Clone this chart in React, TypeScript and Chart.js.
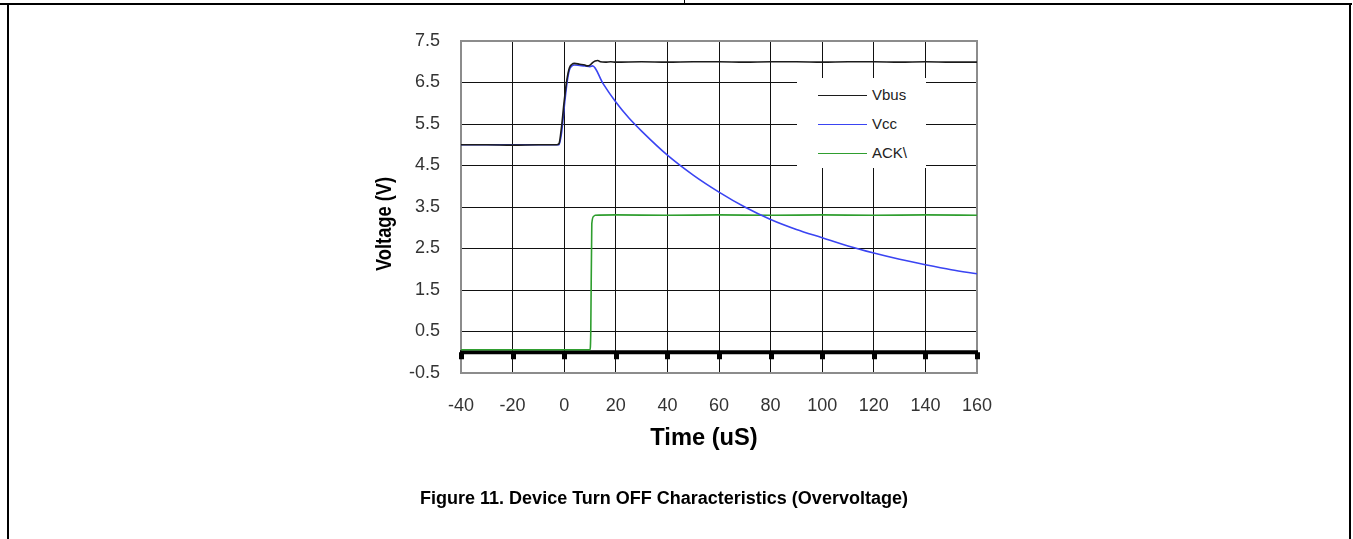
import React, { useEffect, useRef } from "react";
import { Chart, registerables } from "chart.js";

Chart.register(...registerables);

const seriesNames = ["Vbus", "Vcc", "ACK\\"];
const seriesColors = ["#1c1c1c", "#3a44f2", "#2f9e2f"];
const xTitle = "Time (uS)";
const yTitle = "Voltage (V)";
const caption = "Figure 11. Device Turn OFF Characteristics (Overvoltage)";

const xTicks = [-40, -20, 0, 20, 40, 60, 80, 100, 120, 140, 160];
const yTicks = [-0.5, 0.5, 1.5, 2.5, 3.5, 4.5, 5.5, 6.5, 7.5];

const vbusTime = [-40, -30, -20, -10, -3, -2, -1, 0, 1, 2, 3, 4, 6, 8, 9, 10, 11, 12, 13, 14, 16, 18, 20, 30, 40, 50, 60, 70, 80, 90, 100, 110, 120, 130, 140, 150, 160];
const vbusValues = [5.0, 5.0, 4.99, 5.0, 5.0, 5.03, 5.45, 6.05, 6.55, 6.85, 6.94, 6.96, 6.94, 6.92, 6.9, 6.92, 6.98, 7.02, 7.03, 7.0, 6.99, 7.0, 6.99, 7.0, 6.99, 7.0, 7.0, 6.99, 7.0, 7.0, 6.99, 7.0, 7.0, 6.99, 7.0, 6.99, 6.99];

const vccTime = [-40, -30, -20, -10, -3, -2, -1, 0, 1, 2, 3, 4, 6, 8, 10, 11, 15, 20, 25, 30, 40, 50, 60, 70, 80, 90, 100, 110, 120, 130, 140, 150, 160];
const vccValues = [5.0, 5.0, 5.0, 5.0, 5.0, 5.0, 5.3, 5.9, 6.45, 6.8, 6.9, 6.92, 6.91, 6.9, 6.88, 6.9, 6.48, 6.03, 5.65, 5.33, 4.75, 4.27, 3.86, 3.5, 3.2, 2.96, 2.76, 2.56, 2.39, 2.24, 2.11, 1.99, 1.89];

const ackTime = [-40, -20, 0, 10, 10.3, 10.7, 11.5, 12, 20, 40, 60, 80, 100, 120, 140, 160];
const ackValues = [0.06, 0.06, 0.06, 0.06, 0.5, 3.1, 3.28, 3.3, 3.31, 3.3, 3.31, 3.3, 3.31, 3.3, 3.31, 3.3];

const FONT = "'Liberation Sans', Arial, sans-serif";

function toPoints(t: number[], v: number[]) {
  return t.map((x, i) => ({ x, y: v[i] }));
}

const framePlugin = {
  id: "frameAndZero",
  beforeDatasetsDraw(chart: any) {
    const { ctx, chartArea: a, scales } = chart;
    ctx.save();
    ctx.strokeStyle = "#8c8c8c";
    ctx.lineWidth = 2;
    ctx.strokeRect(a.left, a.top, a.right - a.left, a.bottom - a.top);
    const y0 = scales.y.getPixelForValue(0);
    ctx.strokeStyle = "#000";
    ctx.lineWidth = 4;
    ctx.beginPath();
    ctx.moveTo(a.left - 1, y0);
    ctx.lineTo(a.right + 1, y0);
    ctx.stroke();
    ctx.fillStyle = "#000";
    xTicks.forEach((v) => {
      const x = scales.x.getPixelForValue(v);
      ctx.fillRect(Math.round(x) - 2, y0, 5, 7);
    });
    ctx.restore();
  },
  afterDraw(chart: any) {
    const { ctx, chartArea: a } = chart;
    ctx.save();
    ctx.fillStyle = "#000";
    ctx.textAlign = "center";
    ctx.textBaseline = "middle";
    ctx.font = `bold 23px ${FONT}`;
    ctx.save();
    ctx.translate((a.left + a.right) / 2 - 15, a.bottom + 66);
    ctx.scale(1.03, 1);
    ctx.fillText(xTitle, 0, 0);
    ctx.restore();
    ctx.font = `bold 22px ${FONT}`;
    ctx.translate(a.left - 76, (a.top + a.bottom) / 2 + 17);
    ctx.rotate(-Math.PI / 2);
    ctx.scale(0.83, 1);
    ctx.fillText(yTitle, 0, 0);
    ctx.restore();
  },
};

export default function App() {
  const ref = useRef<HTMLCanvasElement>(null);

  useEffect(() => {
    if (!ref.current) return;
    const data = [
      toPoints(vbusTime, vbusValues),
      toPoints(vccTime, vccValues),
      toPoints(ackTime, ackValues),
    ];
    const chart = new Chart(ref.current, {
      type: "line",
      data: {
        datasets: seriesNames.map((name, i) => ({
          label: name,
          data: data[i],
          borderColor: seriesColors[i],
          borderWidth: 1.6,
          pointRadius: 0,
          cubicInterpolationMode: "monotone" as const,
          fill: false,
        })),
      },
      options: {
        responsive: false,
        animation: false,
        events: [],
        layout: { padding: { left: 370, top: 41, right: 376, bottom: 86 } },
        plugins: { legend: { display: false }, tooltip: { enabled: false } },
        scales: {
          x: {
            type: "linear",
            min: -40,
            max: 160,
            afterFit: (s: any) => {
              s.height = 80;
            },
            afterBuildTicks: (s: any) => {
              s.ticks = xTicks.map((v) => ({ value: v }));
            },
            grid: { color: "#111", lineWidth: 1, drawTicks: false },
            border: { display: false },
            ticks: {
              padding: 22,
              color: "#333",
              font: { family: FONT, size: 18 },
              maxRotation: 0,
              autoSkip: false,
            },
            title: { display: false },
          },
          y: {
            type: "linear",
            min: -0.5,
            max: 7.5,
            afterFit: (s: any) => {
              s.width = 91;
            },
            afterBuildTicks: (s: any) => {
              s.ticks = yTicks.map((v) => ({ value: v }));
            },
            grid: { color: "#111", lineWidth: 1, drawTicks: false },
            border: { display: false },
            ticks: {
              padding: 21,
              color: "#333",
              font: { family: FONT, size: 18 },
              callback: (v: any) => Number(v).toFixed(1),
              autoSkip: false,
            },
            title: { display: false },
          },
        },
      },
      plugins: [framePlugin],
    });
    return () => chart.destroy();
  }, []);

  return (
    <div style={{ position: "absolute", left: 0, top: 0, width: 1353, height: 539, background: "#fff", fontFamily: FONT }}>
      <div style={{ position: "absolute", left: 0, top: 3, width: 1352, height: 2, background: "#000" }} />
      <div style={{ position: "absolute", left: 684, top: 0, width: 1, height: 4, background: "#000" }} />
      <div style={{ position: "absolute", left: 7, top: 4, width: 2, height: 535, background: "#000" }} />
      <div style={{ position: "absolute", left: 1349, top: 4, width: 2, height: 535, background: "#000" }} />
      <canvas ref={ref} width={1353} height={539} style={{ position: "absolute", left: 0, top: 0 }} />
      <div style={{ position: "absolute", left: 797, top: 78, width: 129, height: 90, background: "#fff" }}>
        {seriesNames.map((name, i) => (
          <div key={name} style={{ position: "absolute", left: 0, top: 17 + i * 29 - 10, height: 20, width: 129 }}>
            <div style={{ position: "absolute", left: 21, top: 10, width: 49, height: 0, borderTop: `1.5px solid ${seriesColors[i]}` }} />
            <div style={{ position: "absolute", left: 75, top: 1, fontSize: 15, lineHeight: "18px", color: "#222", whiteSpace: "nowrap" }}>{name}</div>
          </div>
        ))}
      </div>
      <div style={{ position: "absolute", left: 0, top: 487, width: 1328, textAlign: "center", fontSize: 18, lineHeight: "22px", fontWeight: "bold", color: "#000", whiteSpace: "nowrap" }}>
        {caption}
      </div>
    </div>
  );
}
